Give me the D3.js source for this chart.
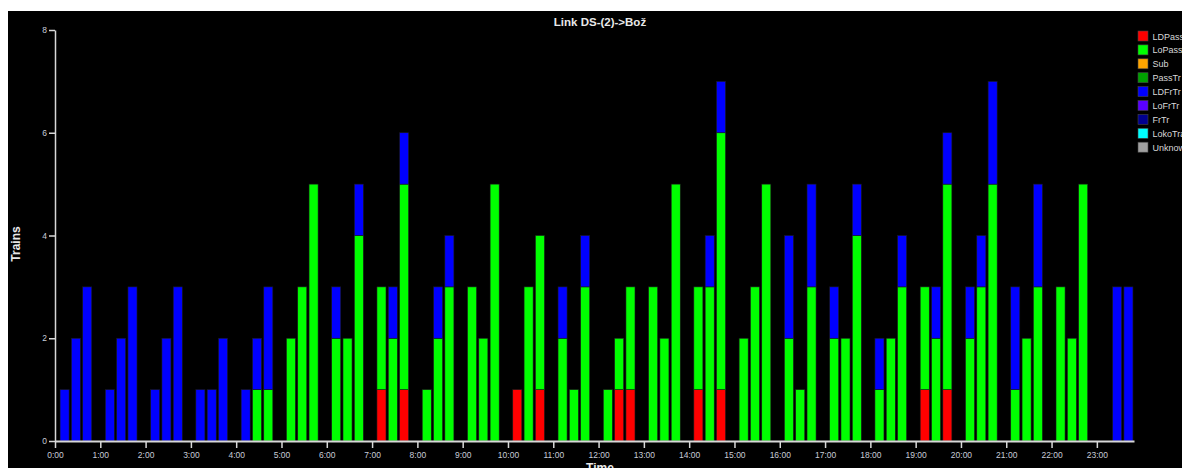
<!DOCTYPE html>
<html>
<head>
<meta charset="utf-8">
<script src="https://cdn.jsdelivr.net/npm/d3@7"></script>
<style>
  html, body { margin: 0; padding: 0; background: #fff; overflow: hidden; }
  #chart { position: absolute; left: 8px; top: 11px; }
  svg { display: block; background: #000; font-family: "Liberation Sans", Arial, sans-serif; }
</style>
</head>
<body>
<div id="chart"></div>
<script>
// Train counts per 15-minute slot (96 slots, one row per hour)
const hourLabels = ["0:00","1:00","2:00","3:00","4:00","5:00","6:00","7:00","8:00","9:00","10:00","11:00",
                    "12:00","13:00","14:00","15:00","16:00","17:00","18:00","19:00","20:00","21:00","22:00","23:00"];
const yTicks = [0, 2, 4, 6, 8];
const trainTypes = ["LDPassTr","LoPassTr","Sub","PassTr","LDFrTr","LoFrTr","FrTr","LokoTrain","Unknown"];
const typeColors = ["#ff0000","#00ff00","#ffa500","#00a000","#0000ff","#5a00ff","#000090","#00ffff","#a0a0a0"];

const ldPassTr = [
  0,0,0,0,  0,0,0,0,  0,0,0,0,  0,0,0,0,  0,0,0,0,  0,0,0,0,
  0,0,0,0,  0,1,0,1,  0,0,0,0,  0,0,0,0,  0,1,0,1,  0,0,0,0,
  0,0,1,1,  0,0,0,0,  0,1,0,1,  0,0,0,0,  0,0,0,0,  0,0,0,0,
  0,0,0,0,  0,1,0,1,  0,0,0,0,  0,0,0,0,  0,0,0,0,  0,0,0,0
];
const loPassTr = [
  0,0,0,0,  0,0,0,0,  0,0,0,0,  0,0,0,0,  0,0,1,1,  0,2,3,5,
  0,2,2,4,  0,2,2,4,  0,1,2,3,  0,3,2,5,  0,0,3,3,  0,2,1,3,
  0,1,1,2,  0,3,2,5,  0,2,3,5,  0,2,3,5,  0,2,1,3,  0,2,2,4,
  0,1,2,3,  0,2,2,4,  0,2,3,5,  0,1,2,3,  0,3,2,5,  0,0,0,0
];
const ldFrTr = [
  0,1,2,3,  0,1,2,3,  0,1,2,3,  0,1,1,2,  0,1,1,2,  0,0,0,0,
  0,1,0,1,  0,0,1,1,  0,0,1,1,  0,0,0,0,  0,0,0,0,  0,1,0,1,
  0,0,0,0,  0,0,0,0,  0,0,1,1,  0,0,0,0,  0,2,0,2,  0,1,0,1,
  0,1,0,1,  0,0,1,1,  0,1,1,2,  0,2,0,2,  0,0,0,0,  0,0,3,3
];
const noTrains = new Array(96).fill(0);

const seriesValues = {
  LDPassTr: ldPassTr, LoPassTr: loPassTr, Sub: noTrains, PassTr: noTrains,
  LDFrTr: ldFrTr, LoFrTr: noTrains, FrTr: noTrains, LokoTrain: noTrains, Unknown: noTrains
};

const slots = [];
hourLabels.forEach(h => ["00","15","30","45"].forEach(m => slots.push(h.split(":")[0] + ":" + m)));
const rows = slots.map((s, i) => {
  const r = { slot: s };
  trainTypes.forEach(t => r[t] = seriesValues[t][i]);
  return r;
});

const W = 1174, H = 457;
const svg = d3.select("#chart").append("svg").attr("width", W).attr("height", H);
const g = svg.append("g").attr("transform", "translate(-8,-11)");

const x = d3.scaleBand().domain(slots).range([47.6, 1134.1]).paddingInner(0.2).paddingOuter(0.1);
const xTime = d3.scaleLinear().domain([0, 23.82]).range([55, 1134]);
const y = d3.scaleLinear().domain([0, 8]).range([441, 30]);
const color = d3.scaleOrdinal().domain(trainTypes).range(typeColors);

const stacked = d3.stack().keys(trainTypes)(rows);

g.append("g").selectAll("g").data(stacked).join("g")
  .attr("fill", d => color(d.key))
  .selectAll("rect").data(d => d.filter(p => p[1] > p[0])).join("rect")
  .attr("x", d => x(d.data.slot))
  .attr("width", x.bandwidth())
  .attr("y", d => y(d[1]))
  .attr("height", d => y(d[0]) - y(d[1]))
  .attr("stroke", "#1a1a1a")
  .attr("stroke-width", 0.6);

// Axes
const axisColor = "#d8d8d8";
const xAxis = g.append("g").attr("transform", "translate(0,441)")
  .call(d3.axisBottom(xTime).tickValues(d3.range(24)).tickFormat((d, i) => hourLabels[i]).tickSize(7).tickSizeOuter(0).tickPadding(4));
xAxis.select(".domain").attr("stroke", axisColor).attr("stroke-width", 2);
xAxis.selectAll(".tick line").attr("stroke", axisColor).attr("stroke-width", 1.5);
xAxis.selectAll("text").attr("fill", "#c8ccd8").attr("font-size", 8.5).attr("font-family", "Liberation Sans, Arial, sans-serif");

const yAxis = g.append("g").attr("transform", "translate(55,0)")
  .call(d3.axisLeft(y).tickValues(yTicks).tickSize(6).tickSizeOuter(0).tickPadding(2));
yAxis.select(".domain").attr("stroke", axisColor).attr("stroke-width", 1.5);
yAxis.selectAll(".tick line").attr("stroke", axisColor).attr("stroke-width", 1.5);
yAxis.selectAll("text").attr("fill", "#c8ccd8").attr("font-size", 8.5).attr("font-family", "Liberation Sans, Arial, sans-serif");

// Titles
g.append("text").attr("x", 600).attr("y", 26).attr("text-anchor", "middle")
  .attr("fill", "#e8e8e8").attr("font-weight", "bold").attr("font-size", 11.5)
  .text("Link DS-(2)->Bož");
g.append("text").attr("x", 600).attr("y", 472).attr("text-anchor", "middle")
  .attr("fill", "#e8e8e8").attr("font-weight", "bold").attr("font-size", 12)
  .text("Time");
g.append("text").attr("transform", "translate(20,244) rotate(-90)").attr("text-anchor", "middle")
  .attr("fill", "#e8e8e8").attr("font-weight", "bold").attr("font-size", 12)
  .text("Trains");

// Legend
const legend = g.append("g").attr("transform", "translate(1138,31)");
const items = legend.selectAll("g").data(trainTypes).join("g")
  .attr("transform", (d, i) => `translate(0,${i * 13.9})`);
items.append("rect").attr("width", 10).attr("height", 10)
  .attr("fill", d => color(d)).attr("stroke", "#444").attr("stroke-width", 0.6);
items.append("text").attr("x", 14.5).attr("y", 8.5)
  .attr("fill", "#d8d8d8").attr("font-size", 9).text(d => d);
</script>
</body>
</html>
